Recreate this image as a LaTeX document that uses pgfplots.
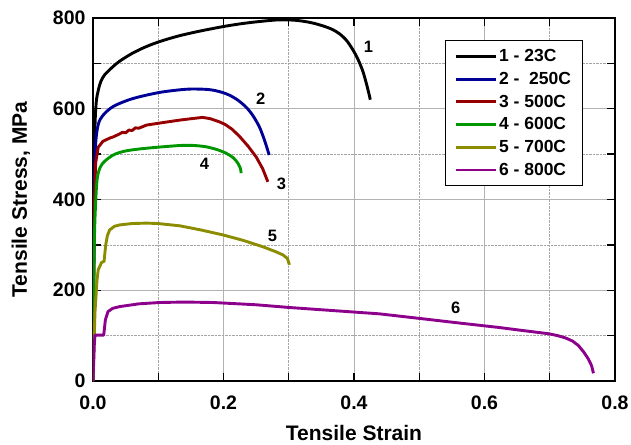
\documentclass[border=0pt]{standalone}
\usepackage{fontspec}
\setmainfont{Liberation Sans}
\usepackage{pgfplots}
\pgfplotsset{compat=1.18}

\definecolor{cA}{RGB}{0,0,0}
\definecolor{cB}{RGB}{0,0,150}
\definecolor{cC}{RGB}{150,0,0}
\definecolor{cD}{RGB}{0,150,0}
\definecolor{cE}{RGB}{140,140,0}
\definecolor{cF}{RGB}{140,0,140}

\begin{document}
\begin{tikzpicture}
\begin{axis}[
    scale only axis,
    width=522pt, height=363pt,
    xmin=0, xmax=0.8, ymin=0, ymax=800,
    xtick={0,0.2,0.4,0.6,0.8}, minor xtick={0.1,0.3,0.5,0.7},
    ytick={0,200,400,600,800}, minor ytick={100,300,500,700},
    grid=both,
    major grid style={gray!60, line width=0.9pt},
    minor grid style={gray!70, densely dotted, line width=0.7pt},
    tick align=inside,
    major tick length=8pt, minor tick length=8pt,
    every tick/.style={black, line width=1.3pt},
    axis line style={line width=1.4pt},
    /pgf/number format/assume math mode=true,
    ticklabel style={font=\bfseries\fontsize{19.5}{19.5}\selectfont},
    xticklabel style={yshift=-11pt, /pgf/number format/.cd, fixed, fixed zerofill, precision=1},
    yticklabel style={xshift=-4pt},
    xlabel={Tensile Strain},
    ylabel={Tensile Stress, MPa},
    label style={font=\bfseries\fontsize{21}{21}\selectfont},
    xlabel style={at={(axis description cs:0.5,-0.143)}, anchor=center},
    ylabel style={at={(axis description cs:-0.138,0.5)}, anchor=center},
    legend style={at={(0.674,0.939)}, anchor=north west, draw=black, line width=0.8pt,
        font=\bfseries\fontsize{17.5}{17.5}\selectfont, inner xsep=9pt, inner ysep=7pt,
        row sep=5pt, cells={anchor=west}},
    legend image code/.code={\draw[#1, line width=2.8pt] (0pt,0pt) -- (40pt,0pt);},
    every axis plot/.append style={line width=2.9pt, line join=round},
]
% 1 - 23C
\addplot[cA, smooth, tension=0.5] coordinates {
(0,0) (0.002,450) (0.003,560) (0.005,615) (0.008,640) (0.012,660) (0.018,675)
(0.03,692) (0.041,705) (0.06,722) (0.08,736) (0.102,748) (0.13,760) (0.16,770)
(0.199,781) (0.23,788) (0.26,793) (0.286,796) (0.31,795) (0.33,791) (0.347,785)
(0.365,776) (0.378,765) (0.39,748) (0.403,718) (0.413,685) (0.42,650) (0.425,620)
};
% 2 - 250C
\addplot[cB, smooth, tension=0.5] coordinates {
(0,0) (0.002,400) (0.004,520) (0.008,565) (0.015,585) (0.031,605) (0.06,622)
(0.102,636) (0.143,643) (0.17,643) (0.184,641) (0.198,636) (0.209,630) (0.222,619)
(0.235,603) (0.245,585) (0.255,560) (0.263,530) (0.27,498)
};
% 3 - 500C
\addplot[cC] coordinates {
(0,0) (0.002,380) (0.004,480) (0.008,515) (0.015,528) (0.025,535) (0.031,538)
(0.04,544) (0.045,548) (0.05,547) (0.055,553) (0.06,552) (0.065,558) (0.07,557)
(0.082,564) (0.1,568) (0.133,575) (0.15,578) (0.168,581) (0.18,578) (0.194,571)
(0.203,565) (0.213,555) (0.224,540) (0.238,517) (0.25,494) (0.26,468) (0.268,439)
};
% 4 - 600C
\addplot[cD, smooth, tension=0.5] coordinates {
(0,0) (0.002,300) (0.005,420) (0.008,458) (0.015,480) (0.031,498) (0.05,507)
(0.082,513) (0.133,519) (0.155,519) (0.174,516) (0.19,510) (0.204,502) (0.215,492)
(0.222,480) (0.226,468) (0.227,458)
};
% 5 - 700C
\addplot[cE] coordinates {
(0,0) (0.003,150) (0.006,220) (0.008,245) (0.013,261) (0.017,264) (0.0195,300)
(0.022,320) (0.0255,333) (0.033,341) (0.041,344) (0.06,347) (0.082,348) (0.1,347)
(0.133,342) (0.165,333) (0.199,322) (0.23,310) (0.26,296) (0.28,285) (0.291,278)
(0.298,270) (0.301,256)
};
% 6 - 800C
\addplot[cF] coordinates {
(0,0) (0.002,80) (0.003,101) (0.0164,101) (0.019,135) (0.023,153) (0.03,160)
(0.041,164) (0.07,170) (0.102,173) (0.14,174) (0.184,173) (0.25,168) (0.301,162)
(0.37,155) (0.439,148) (0.5,138) (0.56,128) (0.622,118) (0.66,111) (0.699,104)
(0.712,100) (0.724,95) (0.735,88) (0.744,78) (0.752,64) (0.759,49) (0.764,34) (0.767,17)
};
\legend{1 - 23C, 2 -\ \ 250C, 3 - 500C, 4 - 600C, 5 - 700C, 6 - 800C}

\begin{scope}[font=\bfseries\fontsize{16.5}{16.5}\selectfont]
\node at (axis cs:0.422,736) {1};
\node at (axis cs:0.257,621) {2};
\node at (axis cs:0.289,434) {3};
\node at (axis cs:0.171,478) {4};
\node at (axis cs:0.275,320) {5};
\node at (axis cs:0.556,161) {6};
\end{scope}
\end{axis}
\pgfresetboundingbox
\path (-93pt,-63pt) rectangle (538pt,381pt);
\end{tikzpicture}
\end{document}
